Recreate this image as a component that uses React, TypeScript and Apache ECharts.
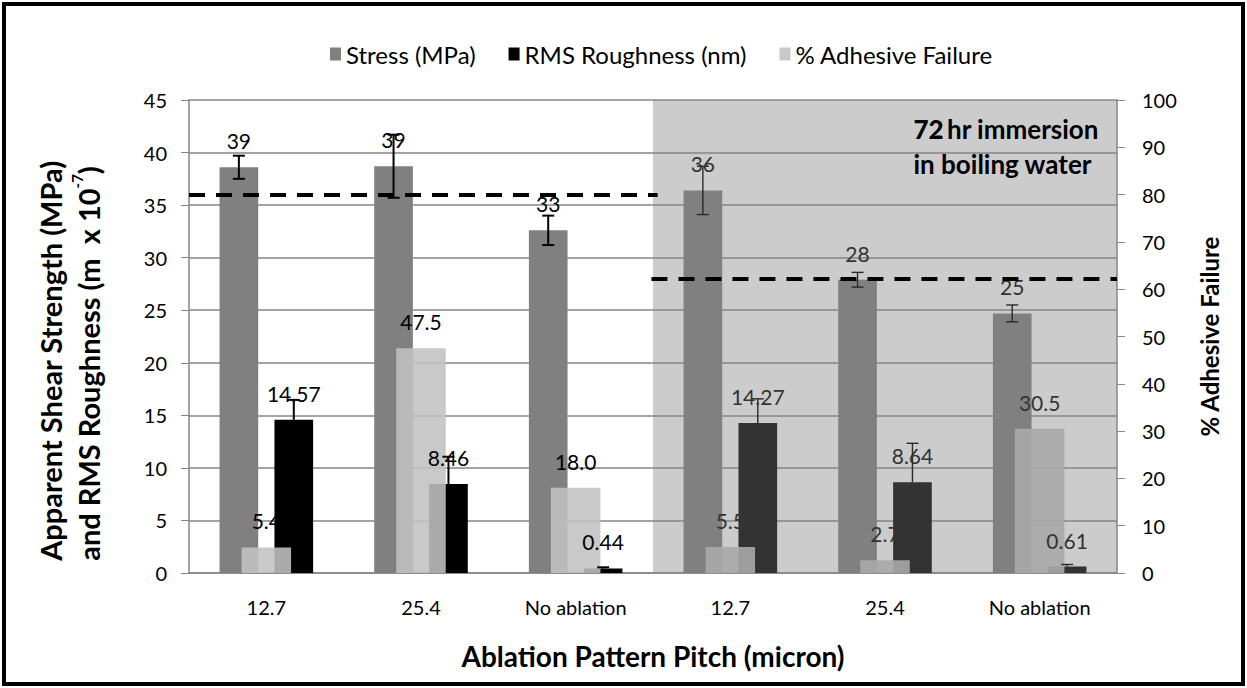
import React, { useEffect, useRef } from "react";
import * as echarts from "echarts";

// ---- data ----
const categories = ["12.7", "25.4", "No ablation", "12.7", "25.4", "No ablation"];
const stress = [38.6, 38.7, 32.6, 36.4, 27.9, 24.7];
const stressErr = [1.1, 3.0, 1.4, 2.3, 0.7, 0.8];
const roughness = [14.57, 8.46, 0.44, 14.27, 8.64, 0.61];
const roughnessErr = [1.9, 2.6, 0.1, 2.3, 3.7, 0.2];
const adhesive = [5.4, 47.5, 18.0, 5.5, 2.7, 30.5];
const immersedFrom = 3; // categories from this index on: 72 hr boiling water
const dryReference = 36;
const immersedReference = 28;
const seriesNames = ["Stress (MPa)", "RMS Roughness (nm)", "% Adhesive Failure"];

const FONT = "Lato, 'Noto Sans', sans-serif";
const LABEL_SIZE = 21;

export default function App() {
  const ref = useRef<HTMLDivElement>(null);

  useEffect(() => {
    document.body.style.margin = "0";
    const chart = echarts.init(ref.current!, null, { renderer: "svg" });

    const barW = 0.25;
    const barGap = 0.42;
    const offset = (barW + barW * barGap) / 2;
    const imm = (i: number) => i >= immersedFrom;
    const labelColor = (i: number) => (imm(i) ? "#333" : "#000");

    // custom series drawing error bars and/or value labels next to a bar series
    const overlay = (cfg: {
      vals: number[];
      errs?: number[];
      plusOnly?: boolean;
      dir: number;
      xAxisIndex: number;
      yAxisIndex: number;
      fmt?: (v: number) => string;
      z: number;
    }) => ({
      type: "custom",
      xAxisIndex: cfg.xAxisIndex,
      yAxisIndex: cfg.yAxisIndex,
      z: cfg.z,
      silent: true,
      data: cfg.vals.map((v, i) => [i, v, cfg.errs ? cfg.errs[i] : 0]),
      renderItem: (params: any, api: any) => {
        const i = api.value(0);
        const v = api.value(1);
        const e = api.value(2);
        const c = api.coord([i, v]);
        const bw = api.size([1, 0])[0];
        const x = c[0] + cfg.dir * offset * bw;
        const children: any[] = [];
        if (cfg.errs) {
          const y1 = api.coord([i, v + e])[1];
          const y2 = cfg.plusOnly ? c[1] : api.coord([i, v - e])[1];
          const style = { stroke: imm(i) ? "#2a2a2a" : "#000", lineWidth: imm(i) ? 1.4 : 2 };
          const cap = 6;
          children.push({ type: "line", shape: { x1: x, y1, x2: x, y2 }, style });
          children.push({ type: "line", shape: { x1: x - cap, y1, x2: x + cap, y2: y1 }, style });
          if (!cfg.plusOnly) children.push({ type: "line", shape: { x1: x - cap, y1: y2, x2: x + cap, y2 }, style });
        }
        if (cfg.fmt) {
          children.push({
            type: "text",
            x,
            y: c[1] - 16,
            style: {
              text: cfg.fmt(v),
              fill: labelColor(i),
              fontSize: LABEL_SIZE,
              fontFamily: FONT,
              align: "center",
              verticalAlign: "bottom",
            },
          });
        }
        return { type: "group", children };
      },
    });

    const option: any = {
      animation: false,
      textStyle: { fontFamily: FONT },
      legend: {
        data: seriesNames,
        top: 37,
        left: 325,
        icon: "rect",
        itemWidth: 11,
        itemHeight: 13,
        itemGap: 33,
        itemStyle: { borderWidth: 0 },
        textStyle: { fontSize: 24, color: "#000", fontFamily: FONT },
      },
      grid: { left: 189, right: 130, top: 100, bottom: 115 },
      xAxis: [
        {
          type: "category",
          data: categories,
          axisLine: { lineStyle: { color: "#868686", width: 1.5 } },
          axisTick: { length: 8, lineStyle: { color: "#868686" } },
          axisLabel: { fontSize: 20, color: "#000", margin: 24, interval: 0, fontFamily: FONT },
          name: "Ablation Pattern Pitch (micron)",
          nameLocation: "middle",
          nameGap: 69,
          nameTextStyle: { fontSize: 28, fontWeight: "bold", color: "#000", fontFamily: FONT },
        },
        { type: "category", data: categories, show: false },
        { type: "value", min: 0, max: categories.length, show: false },
      ],
      yAxis: [
        {
          type: "value",
          min: 0,
          max: 45,
          interval: 5,
          axisLine: { show: true, lineStyle: { color: "#868686", width: 1.5 } },
          axisTick: { show: true, length: 8, lineStyle: { color: "#868686" } },
          splitLine: { lineStyle: { color: "#868686", width: 1.5 } },
          axisLabel: { fontSize: 20, color: "#000", margin: 22, fontFamily: FONT },
          name: "{a|Apparent Shear Strength (MPa)}\n{a|and RMS Roughness (m  x 10}{s|-7}{a|)}",
          nameLocation: "middle",
          nameRotate: 90,
          nameGap: 82,
          nameTextStyle: {
            padding: [0, 48, 0, 0],
            rich: {
              a: { fontSize: 29, fontWeight: "bold", color: "#000", fontFamily: FONT, lineHeight: 38, align: "left" },
              s: {
                fontSize: 15,
                fontWeight: "bold",
                color: "#000",
                fontFamily: FONT,
                lineHeight: 20,
                verticalAlign: "top",
                align: "left",
              },
            },
          },
        },
        {
          type: "value",
          min: 0,
          max: 100,
          interval: 10,
          position: "right",
          axisLine: { show: true, lineStyle: { color: "#868686", width: 1.5 } },
          axisTick: { show: true, length: 8, lineStyle: { color: "#868686" } },
          splitLine: { show: false },
          axisLabel: { fontSize: 20, color: "#000", margin: 25, fontFamily: FONT },
          name: "% Adhesive Failure",
          nameLocation: "middle",
          nameRotate: 90,
          nameGap: 80,
          nameTextStyle: { fontSize: 24, fontWeight: "bold", color: "#000", fontFamily: FONT },
        },
      ],
      graphic: [
        {
          type: "text",
          right: 148,
          top: 116,
          z: 10,
          style: {
            text: "{b|72} {m|hr immersion}\n{m|in boiling water}",
            align: "right",
            fill: "#000",
            rich: {
              b: { fontSize: 26, fontWeight: 900, fontFamily: FONT, lineHeight: 35 },
              m: { fontSize: 26, fontWeight: "bold", fontFamily: FONT, lineHeight: 35 },
            },
          },
        },
      ],
      series: [
        {
          type: "line",
          xAxisIndex: 2,
          yAxisIndex: 0,
          data: [],
          z: -1,
          silent: true,
          markArea: {
            z: -1,
            silent: true,
            itemStyle: { color: "#cccccc" },
            data: [[{ xAxis: immersedFrom }, { xAxis: categories.length }]],
          },
        },
        {
          name: seriesNames[0],
          type: "bar",
          xAxisIndex: 0,
          yAxisIndex: 0,
          z: 2,
          barWidth: barW * 100 + "%",
          barGap: barGap * 100 + "%",
          itemStyle: { color: "#808080" },
          data: stress.map((v, i) => ({
            value: v,
            label: { color: labelColor(i) },
          })),
          label: {
            show: true,
            position: "top",
            distance: 16,
            fontSize: LABEL_SIZE,
            fontFamily: FONT,
            formatter: (p: any) => Math.round(p.value).toString(),
          },
        },
        {
          name: seriesNames[1],
          type: "bar",
          xAxisIndex: 0,
          yAxisIndex: 0,
          z: 4,
          barWidth: barW * 100 + "%",
          barGap: barGap * 100 + "%",
          itemStyle: { color: "#000000" },
          data: roughness.map((v, i) => ({
            value: v,
            itemStyle: { color: imm(i) ? "#333333" : "#000000" },
          })),
        },
        {
          name: seriesNames[2],
          type: "bar",
          xAxisIndex: 1,
          yAxisIndex: 1,
          barWidth: "32%",
          z: 5,
          itemStyle: { color: "rgba(193,193,193,0.88)" },
          data: adhesive.map((v, i) => ({
            value: v,
            itemStyle: { color: imm(i) ? "rgba(169,169,169,0.9)" : "rgba(193,193,193,0.88)" },
          })),
        },
        // adhesive labels sit beneath the roughness bars
        overlay({ vals: adhesive, dir: 0, xAxisIndex: 1, yAxisIndex: 1, fmt: (v) => v.toFixed(1), z: 3 }),
        overlay({ vals: stress, errs: stressErr, dir: -1, xAxisIndex: 0, yAxisIndex: 0, z: 6 }),
        overlay({
          vals: roughness,
          errs: roughnessErr,
          plusOnly: true,
          dir: 1,
          xAxisIndex: 0,
          yAxisIndex: 0,
          fmt: (v) => v.toFixed(2),
          z: 6,
        }),
        {
          type: "line",
          xAxisIndex: 2,
          yAxisIndex: 0,
          data: [],
          z: 8,
          silent: true,
          markLine: {
            silent: true,
            symbol: "none",
            label: { show: false },
            lineStyle: { color: "#000", width: 4, type: [16, 11] },
            data: [
              [{ coord: [0, dryReference] }, { coord: [immersedFrom + 0.03, dryReference] }],
              [{ coord: [immersedFrom - 0.01, immersedReference] }, { coord: [categories.length, immersedReference] }],
            ],
          },
        },
      ],
    };

    chart.setOption(option);
    return () => chart.dispose();
  }, []);

  return (
    <div style={{ position: "absolute", left: 0, top: 0, width: 1247, height: 688, background: "#fff" }}>
      <div ref={ref} style={{ position: "absolute", left: 0, top: 0, width: 1247, height: 688 }} />
      <div
        style={{
          position: "absolute",
          left: 2,
          top: 2,
          width: 1243,
          height: 684,
          boxSizing: "border-box",
          border: "4px solid #000",
          pointerEvents: "none",
        }}
      />
    </div>
  );
}
